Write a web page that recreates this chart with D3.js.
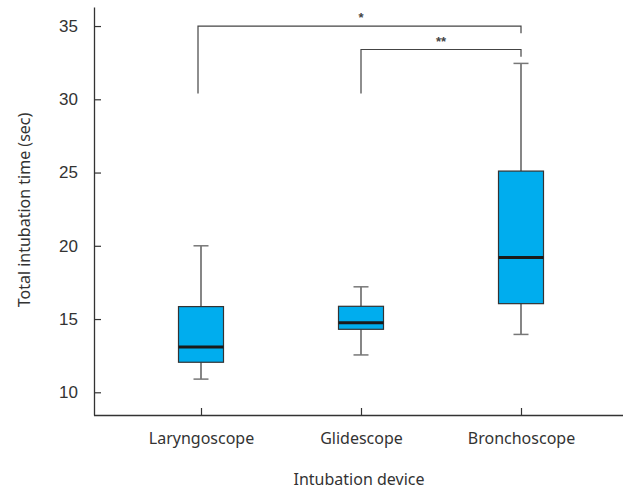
<!DOCTYPE html>
<html>
<head>
<meta charset="utf-8">
<script src="https://cdn.jsdelivr.net/npm/d3@7"></script>
<style>
  body { margin: 0; background: #fff; }
  svg { display: block; }
</style>
</head>
<body>
<div id="chart"></div>
<script>
// Box plot data
const devices = ["Laryngoscope", "Glidescope", "Bronchoscope"];
const whiskerLow = [10.9, 12.55, 13.95];
const q1 = [12.05, 14.3, 16.05];
const medians = [13.1, 14.75, 19.2];
const q3 = [15.85, 15.87, 25.1];
const whiskerHigh = [20.0, 17.2, 32.45];
const yTicks = [10, 15, 20, 25, 30, 35];

// Significance brackets
const brackets = [
    { from: "Laryngoscope", to: "Bronchoscope", level: 35, leftEnd: 30.4, rightEnd: 34.5, label: "*" },
    { from: "Glidescope", to: "Bronchoscope", level: 33.4, leftEnd: 30.4, rightEnd: 32.9, label: "**" }
];

const width = 623, height = 489;

const svg = d3.select("#chart")
    .append("svg")
    .attr("width", width)
    .attr("height", height);

const y = d3.scaleLinear()
    .domain([8.45, 36.3])
    .range([415, 7]);

const x = d3.scalePoint()
    .domain(devices)
    .range([201, 521]);

const boxes = devices.map((d, i) => ({
    device: d, lo: whiskerLow[i], q1: q1[i], med: medians[i], q3: q3[i], hi: whiskerHigh[i]
}));

// Y axis
const yAxis = svg.append("g")
    .attr("transform", "translate(94,0)")
    .call(d3.axisLeft(y).tickValues(yTicks).tickSizeInner(-7).tickSizeOuter(0).tickPadding(16));
yAxis.select(".domain").attr("stroke", "#333").attr("stroke-width", 1.3);
yAxis.selectAll(".tick line").attr("stroke", "#333").attr("stroke-width", 1.2);
yAxis.selectAll(".tick text")
    .attr("font-family", "Liberation Sans, Arial, sans-serif")
    .attr("font-size", 17)
    .attr("fill", "#333");

// X axis
const xAxis = svg.append("g")
    .attr("transform", "translate(0,415)")
    .call(d3.axisBottom(x).tickSizeInner(-7).tickSizeOuter(0).tickPadding(18));
xAxis.select(".domain").attr("d", "M94,0.5H623").attr("stroke", "#333").attr("stroke-width", 1.3);
xAxis.selectAll(".tick line").attr("stroke", "#333").attr("stroke-width", 1.2);
xAxis.selectAll(".tick text")
    .attr("font-family", "Noto Sans, sans-serif")
    .attr("font-size", 16)
    .attr("fill", "#333");

// Axis titles
svg.append("text")
    .attr("x", 359)
    .attr("y", 485)
    .attr("text-anchor", "middle")
    .attr("font-family", "Noto Sans, sans-serif")
    .attr("font-size", 16)
    .attr("fill", "#333")
    .text("Intubation device");

svg.append("text")
    .attr("transform", "translate(30,210) rotate(-90)")
    .attr("text-anchor", "middle")
    .attr("font-family", "Noto Sans, sans-serif")
    .attr("font-size", 16)
    .attr("fill", "#333")
    .text("Total intubation time (sec)");

// Boxes
const boxW = 45, capW = 15;
const g = svg.selectAll(".box")
    .data(boxes)
    .enter()
    .append("g")
    .attr("class", "box");

g.append("line")
    .attr("x1", d => x(d.device)).attr("x2", d => x(d.device))
    .attr("y1", d => y(d.hi)).attr("y2", d => y(d.q3))
    .attr("stroke", "#444").attr("stroke-width", 1.3);
g.append("line")
    .attr("x1", d => x(d.device)).attr("x2", d => x(d.device))
    .attr("y1", d => y(d.q1)).attr("y2", d => y(d.lo))
    .attr("stroke", "#444").attr("stroke-width", 1.3);
g.append("line")
    .attr("x1", d => x(d.device) - capW / 2).attr("x2", d => x(d.device) + capW / 2)
    .attr("y1", d => y(d.hi)).attr("y2", d => y(d.hi))
    .attr("stroke", "#777").attr("stroke-width", 1.5);
g.append("line")
    .attr("x1", d => x(d.device) - capW / 2).attr("x2", d => x(d.device) + capW / 2)
    .attr("y1", d => y(d.lo)).attr("y2", d => y(d.lo))
    .attr("stroke", "#777").attr("stroke-width", 1.5);

g.append("rect")
    .attr("x", d => x(d.device) - boxW / 2)
    .attr("y", d => y(d.q3))
    .attr("width", boxW)
    .attr("height", d => y(d.q1) - y(d.q3))
    .attr("fill", "#00adee")
    .attr("stroke", "#333")
    .attr("stroke-width", 1.2);

g.append("line")
    .attr("x1", d => x(d.device) - boxW / 2).attr("x2", d => x(d.device) + boxW / 2)
    .attr("y1", d => y(d.med)).attr("y2", d => y(d.med))
    .attr("stroke", "#1a1a1a").attr("stroke-width", 3);

// Significance brackets
brackets.forEach(b => {
    const x1 = x(b.from) - (b.from === "Laryngoscope" ? 3 : 0);
    const x2 = x(b.to);
    svg.append("path")
        .attr("d", `M${x1},${y(b.leftEnd)}V${y(b.level)}H${x2}V${y(b.rightEnd)}`)
        .attr("fill", "none")
        .attr("stroke", "#444")
        .attr("stroke-width", 1.2);
});

svg.append("text")
    .attr("x", (x("Laryngoscope") + x("Bronchoscope")) / 2)
    .attr("y", 22)
    .attr("text-anchor", "middle")
    .attr("font-family", "Liberation Sans, Arial, sans-serif")
    .attr("font-size", 13)
    .attr("font-weight", "bold")
    .attr("fill", "#444")
    .text(brackets[0].label);

svg.append("text")
    .attr("x", (x("Glidescope") + x("Bronchoscope")) / 2)
    .attr("y", 46)
    .attr("text-anchor", "middle")
    .attr("font-family", "Liberation Sans, Arial, sans-serif")
    .attr("font-size", 13)
    .attr("font-weight", "bold")
    .attr("fill", "#444")
    .text(brackets[1].label);
</script>
</body>
</html>
